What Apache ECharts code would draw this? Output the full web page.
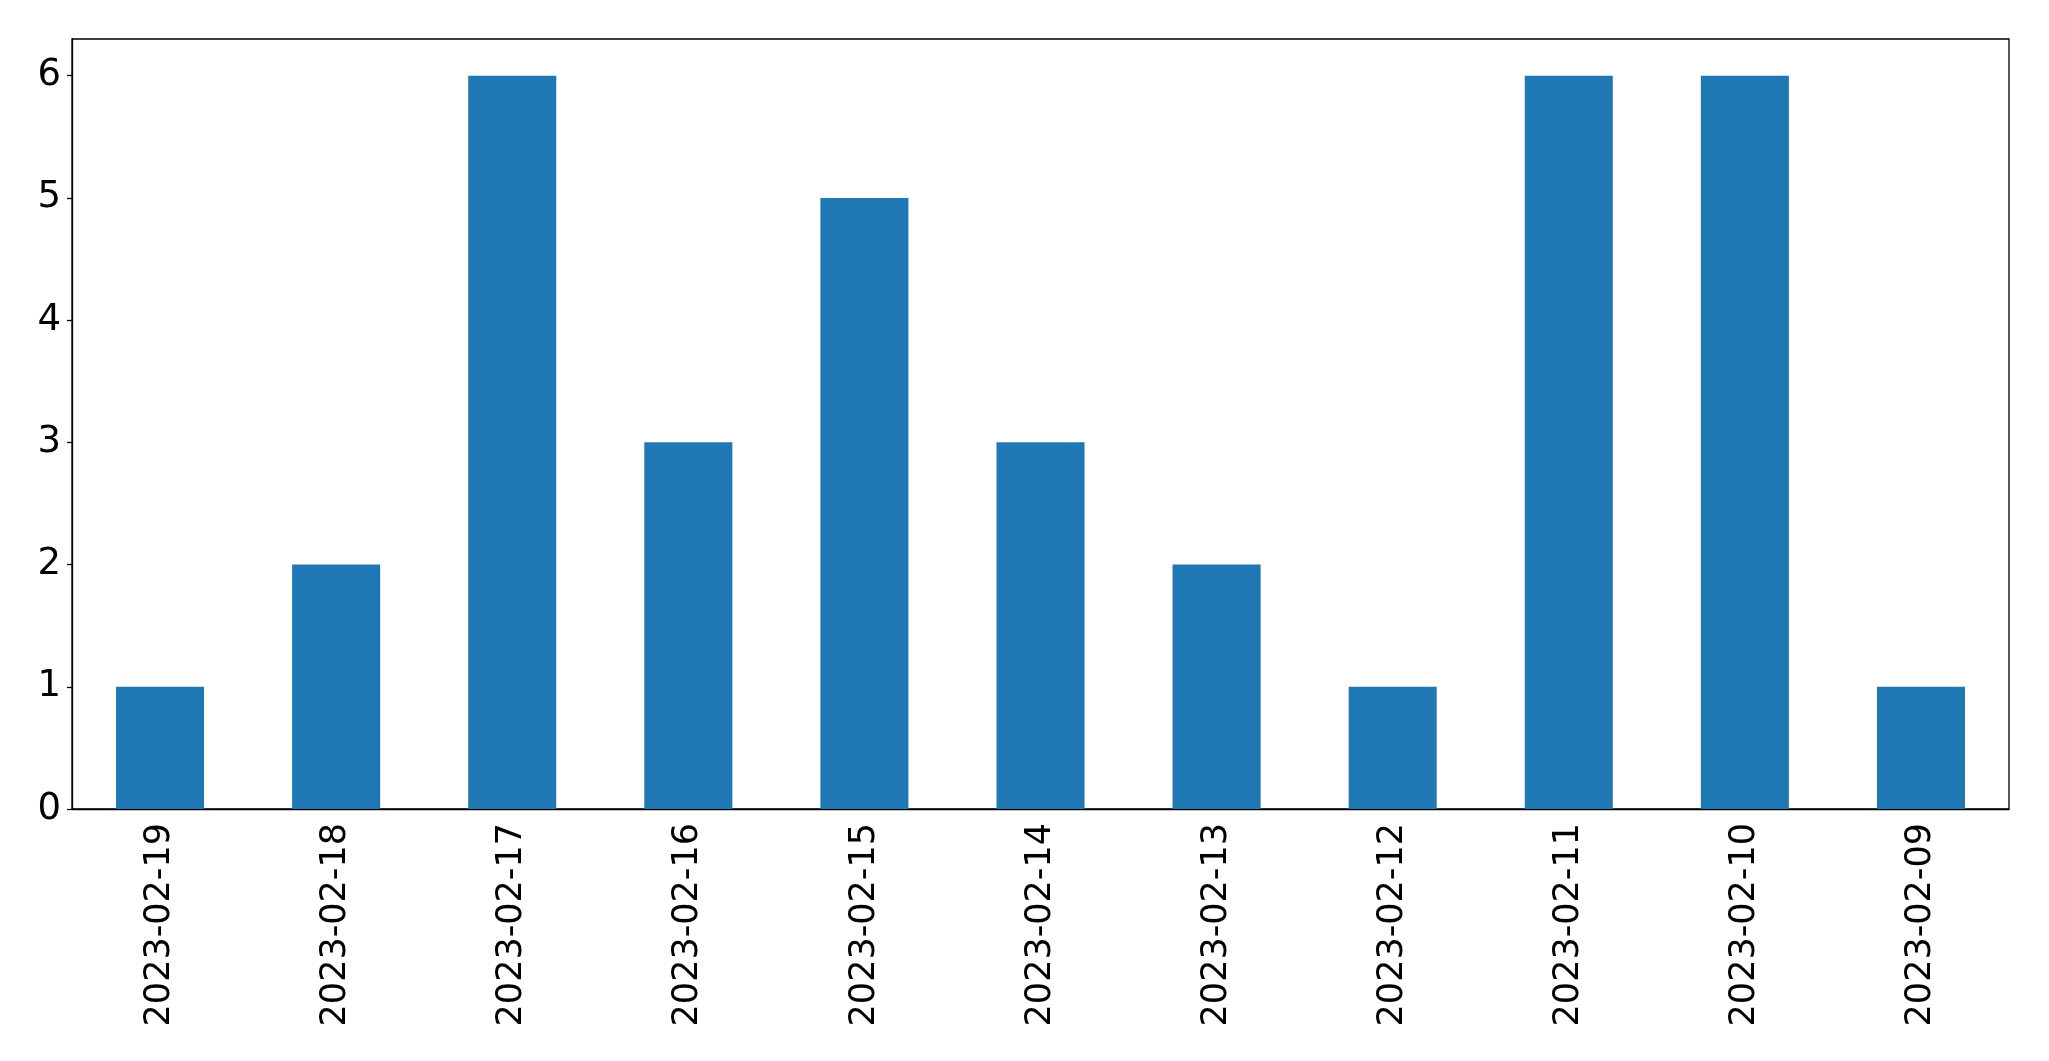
<!DOCTYPE html>
<html>
<head>
<meta charset="utf-8">
<script src="https://cdn.jsdelivr.net/npm/echarts@6/dist/echarts.min.js"></script>
<style>html,body{margin:0;padding:0;background:#fff}#c{width:2049px;height:1061px}</style>
</head>
<body>
<div id="c"></div>
<script>
const categories = ["2023-02-19","2023-02-18","2023-02-17","2023-02-16","2023-02-15","2023-02-14","2023-02-13","2023-02-12","2023-02-11","2023-02-10","2023-02-09"];
const values = [1,2,6,3,5,3,2,1,6,6,1];
const yTicks = [0,1,2,3,4,5,6];

const chart = echarts.init(document.getElementById('c'), null, {renderer:'canvas'});
const font = 'DejaVu Sans';
chart.setOption({
  animation: false,
  backgroundColor: '#ffffff',
  grid: {left: 72, right: 40, top: 39, bottom: 252, show: true, borderColor: '#000', borderWidth: 1.3, containLabel: false},
  xAxis: {
    type: 'category',
    data: categories,
    axisLine: {lineStyle: {color: '#000', width: 1.3}},
    axisTick: {alignWithLabel: true, length: 5, lineStyle: {color: '#000', width: 1.3}},
    axisLabel: {rotate: 90, color: '#000', fontFamily: font, fontSize: 35, margin: 14},
    splitLine: {show: false}
  },
  yAxis: {
    type: 'value',
    min: 0, max: 6.3, interval: 1,
    axisLine: {show: true, lineStyle: {color: '#000', width: 1.3}},
    axisTick: {show: true, length: 5, lineStyle: {color: '#000', width: 1.3}, customValues: yTicks},
    axisLabel: {color: '#000', fontFamily: font, fontSize: 37, margin: 11, customValues: yTicks},
    splitLine: {show: false}
  },
  series: [{
    type: 'bar',
    data: values,
    barWidth: '50%',
    itemStyle: {color: '#1f77b4'}
  }]
});
</script>
</body>
</html>
